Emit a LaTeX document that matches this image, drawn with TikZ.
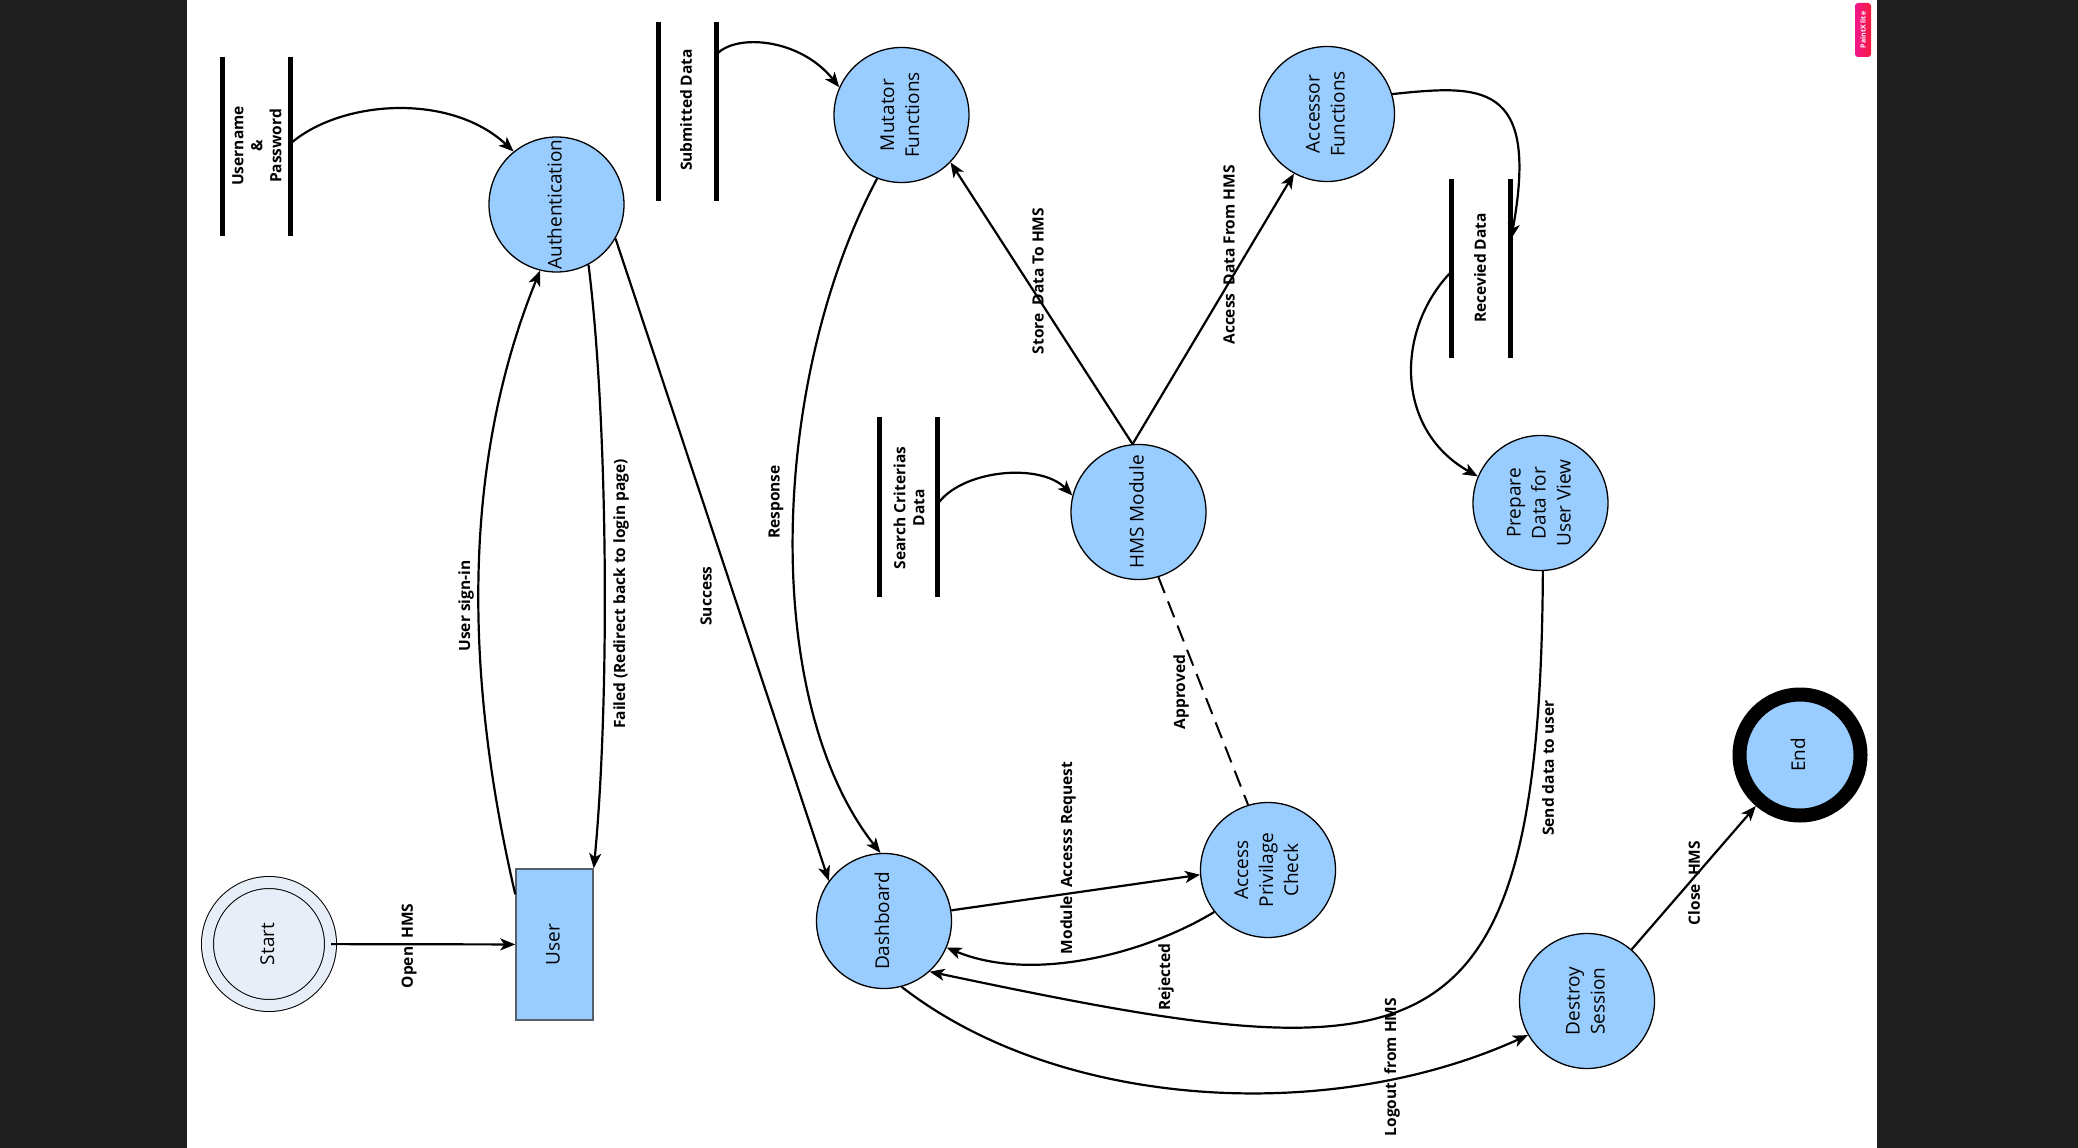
\documentclass[tikz,border=0pt]{standalone}
\usepackage{fontspec}
\setmainfont{Open Sans}
\usetikzlibrary{arrows.meta}
\definecolor{procblue}{HTML}{99CCFF}
\definecolor{startfill}{HTML}{E8EEF7}
\definecolor{sidegray}{HTML}{1F1F1F}
\definecolor{userline}{HTML}{55606B}
\definecolor{badgetop}{HTML}{F81B3C}
\definecolor{badgebot}{HTML}{F0168C}
\newcommand{\procfont}{\fontsize{19}{25}\selectfont}
\newcommand{\lblfont}{\bfseries\fontsize{15.5}{19}\selectfont}
\newcommand{\vtext}[1]{\rotatebox{90}{\begin{tabular}{@{}c@{}}#1\end{tabular}}}
\begin{document}
\begin{tikzpicture}[x=1pt,y=-1pt,
  proc/.style={circle, draw, line width=1.3pt, fill=procblue, minimum size=135pt, inner sep=0pt, font=\procfont},
  lbl/.style={rotate=90, inner sep=0pt, font=\lblfont, align=center},
  flow/.style={line width=2.2pt, -{Stealth[length=15pt,width=12pt,inset=4pt]}},
  dashline/.style={line width=2pt, dash pattern=on 17pt off 9pt},
  bar/.style={line width=5pt}]
\useasboundingbox (0,0) rectangle (2078,1148);
\fill[sidegray] (0,0) rectangle (2078,1148);
\fill[white] (187,0) rectangle (1877,1148);
\node[rotate=90, rounded corners=3pt, minimum width=54pt, minimum height=16pt, inner sep=0pt,
  left color=badgebot, right color=badgetop, text=white, font=\bfseries\fontsize{7}{8}\selectfont] (paintx) at (1863,30) {PaintX lite};

% processes
\node[circle, draw, line width=1pt, double=startfill, double distance=11pt, fill=startfill,
  minimum size=123pt, inner sep=0pt, font=\procfont] (start) at (269,944) {\vtext{Start}};
\node[draw=userline, line width=1.5pt, fill=procblue, minimum width=77pt, minimum height=151pt,
  inner sep=0pt, font=\procfont] (user) at (554.5,944.5) {\vtext{User}};
\node[proc] (auth) at (556.5,204.5) {\vtext{Authentication}};
\node[proc] (mut) at (901.5,115) {\vtext{Mutator\\Functions}};
\node[proc] (acc) at (1327,114) {\vtext{Accessor\\Functions}};
\node[proc] (hms) at (1138.5,512) {\vtext{HMS Module}};
\node[proc] (prep) at (1540.5,503) {\vtext{Prepare\\Data for\\User View}};
\node[proc] (apc) at (1268,870) {\vtext{Access\\Privilage\\Check}};
\node[proc] (dash) at (884,921) {\vtext{Dashboard}};
\node[proc] (des) at (1587,1001) {\vtext{Destroy\\Session}};
\node[proc, line width=14pt, minimum size=121pt, outer sep=7pt] (fin) at (1800,755) {\vtext{End}};

% data stores
\node[lbl] (upw) at (257,146) {Username\\\&\\Password};
\node[lbl] (subd) at (686,110) {Submitted Data};
\node[lbl] (srch) at (909,508) {Search Criterias\\Data};
\node[lbl] (recd) at (1480,268) {Recevied Data};
\foreach \x/\ya/\yb in {222/57/236, 290/57/236, 658/22/201, 716/22/201,
  879/417/597, 937/417/597, 1451/179/358, 1510/179/358}
  \draw[bar] (\x,\ya) -- (\x,\yb);
\coordinate (upwout) at (290,144);
\coordinate (subout) at (716,55);
\coordinate (srchout) at (937,505);
\coordinate (recin) at (1511,239);
\coordinate (recout) at (1451,272);

% flows
\draw[flow] (upwout) .. controls (340,100) and (450,92) .. (auth.129);
\draw[flow] (subout) .. controls (735,33) and (800,38) .. (mut.156);
\draw[flow] (srchout) .. controls (960,470) and (1040,462) .. (hms.166);
\draw[flow] (acc.17) .. controls (1480,85) and (1540,80) .. (recin);
\draw[flow] (recout) .. controls (1395,330) and (1395,430) .. (prep.157);
\draw[flow] (start) -- (user) node[lbl] (lopen) at (409,946) {Open~~HMS};
\draw[flow] (user.128) .. controls (470,700) and (455,480) .. (auth.256)
  node[lbl] (lsign) at (466,606) {User sign-in};
\draw[flow] (auth.-62) .. controls (608,420) and (610,700) .. (user.north east)
  node[lbl] (lfail) at (621,594) {Failed (Redirect back to login page)};
\draw[flow] (auth.-30) -- (dash.144) node[lbl] (lsucc) at (706,596) {Success};
\draw[flow] (mut.-111) .. controls (770,380) and (760,700) .. (dash.93)
  node[lbl] (lresp) at (776,502) {Response};
\draw[flow] (hms.95) -- (mut.-44) node[lbl] (lstore) at (1038,281) {Store~~Data To HMS};
\draw[flow] (hms.95) -- (acc.-119) node[lbl] (laccess) at (1229,255) {Access~~Data From HMS};
\draw[dashline] (hms.-73) -- (apc.107) node[lbl] (lappr) at (1181,692) {Approved};
\draw[flow] (dash.9) -- (apc.184) node[lbl] (lmod) at (1068,858) {Module~~Accesss Request};
\draw[flow] (apc.218) .. controls (1145,954) and (1032,983) .. (dash.-23)
  node[lbl] (lrej) at (1166,977) {Rejected};
\draw[flow] (prep.-88) .. controls (1540,1080) and (1420,1075) .. (dash.-48)
  node[lbl] (lsend) at (1548,768) {Send data to user};
\draw[flow] (dash.-75) .. controls (1060,1110) and (1330,1125) .. (des.210)
  node[lbl] (lout) at (1392,1067) {Logout~~from HMS};
\draw[flow] (des) -- (fin) node[lbl] (lclose) at (1694,883) {Close~~HMS};
\end{tikzpicture}
\end{document}
